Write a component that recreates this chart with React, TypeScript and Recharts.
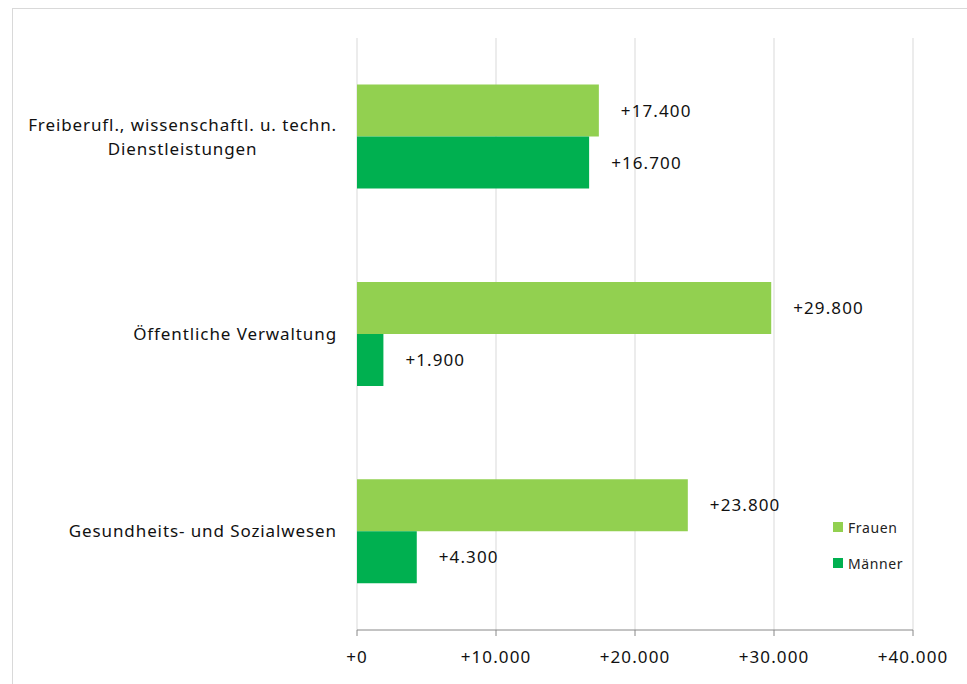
import { BarChart, Bar, XAxis, YAxis, CartesianGrid, LabelList } from 'recharts'

const CATEGORIES = [
  'Freiberufl., wissenschaftl. u. techn.|Dienstleistungen',
  'Öffentliche Verwaltung',
  'Gesundheits- und Sozialwesen',
]
const FRAUEN = [17400, 29800, 23800]
const MAENNER = [16700, 1900, 4300]
const X_TICKS = [0, 10000, 20000, 30000, 40000]

const SERIES = [
  { key: 'frauen', name: 'Frauen', color: '#92d050' },
  { key: 'maenner', name: 'Männer', color: '#00b050' },
]

const data = CATEGORIES.map((c, i) => ({ cat: c, frauen: FRAUEN[i], maenner: MAENNER[i] }))

const FONT = '"Noto Sans", sans-serif'
const TEXT = { fill: '#111', fontSize: 17, fontFamily: FONT, letterSpacing: 1.1 }

const fmt = (v: number) => '+' + v.toLocaleString('de-DE')

function CatTick({ x, y, payload }: any) {
  const lines = String(payload.value).split('|')
  return (
    <foreignObject x={x - 330} y={y - lines.length * 12} width={318} height={lines.length * 24}>
      <div style={{ display: 'flex', justifyContent: 'flex-end', fontFamily: FONT, fontSize: 17, letterSpacing: 0.9, lineHeight: '24px', color: '#111' }}>
        <div style={{ textAlign: 'center' }}>
          {lines.map((l, i) => <div key={i}>{l}</div>)}
        </div>
      </div>
    </foreignObject>
  )
}

export default function App() {
  return (
    <div style={{ position: 'absolute', left: 0, top: 0, width: 967, height: 684, overflow: 'hidden', background: '#fff' }}>
      <div style={{ position: 'absolute', left: 12, top: 8, width: 960, height: 700, border: '1px solid #d9d9d9' }} />
      <BarChart
        width={967}
        height={684}
        data={data}
        layout="vertical"
        margin={{ top: 38, right: 54, bottom: 0, left: 0 }}
        barCategoryGap="23.6%"
        barGap={0}
        style={{ position: 'absolute', left: 0, top: 0 }}
      >
        <CartesianGrid horizontal={false} stroke="#d9d9d9" />
        <XAxis
          type="number"
          domain={[0, 40000]}
          ticks={X_TICKS}
          tickFormatter={fmt}
          height={54}
          stroke="#888"
          tickSize={6}
          tickMargin={15}
          tick={TEXT}
          interval={0}
        />
        <YAxis type="category" dataKey="cat" width={357} axisLine={false} tickLine={false} tick={<CatTick />} />
        {SERIES.map((s) => (
          <Bar key={s.key} dataKey={s.key} name={s.name} fill={s.color} isAnimationActive={false}>
            <LabelList dataKey={s.key} position="right" offset={22} formatter={fmt} style={TEXT} />
          </Bar>
        ))}
      </BarChart>
      <div style={{ position: 'absolute', left: 833, top: 509, fontFamily: FONT, fontSize: 14, letterSpacing: 0.6, color: '#222' }}>
        {SERIES.map((s) => (
          <div key={s.key} style={{ display: 'flex', alignItems: 'center', height: 36 }}>
            <span style={{ width: 10, height: 10, background: s.color, marginRight: 5 }} />
            {s.name}
          </div>
        ))}
      </div>
    </div>
  )
}
